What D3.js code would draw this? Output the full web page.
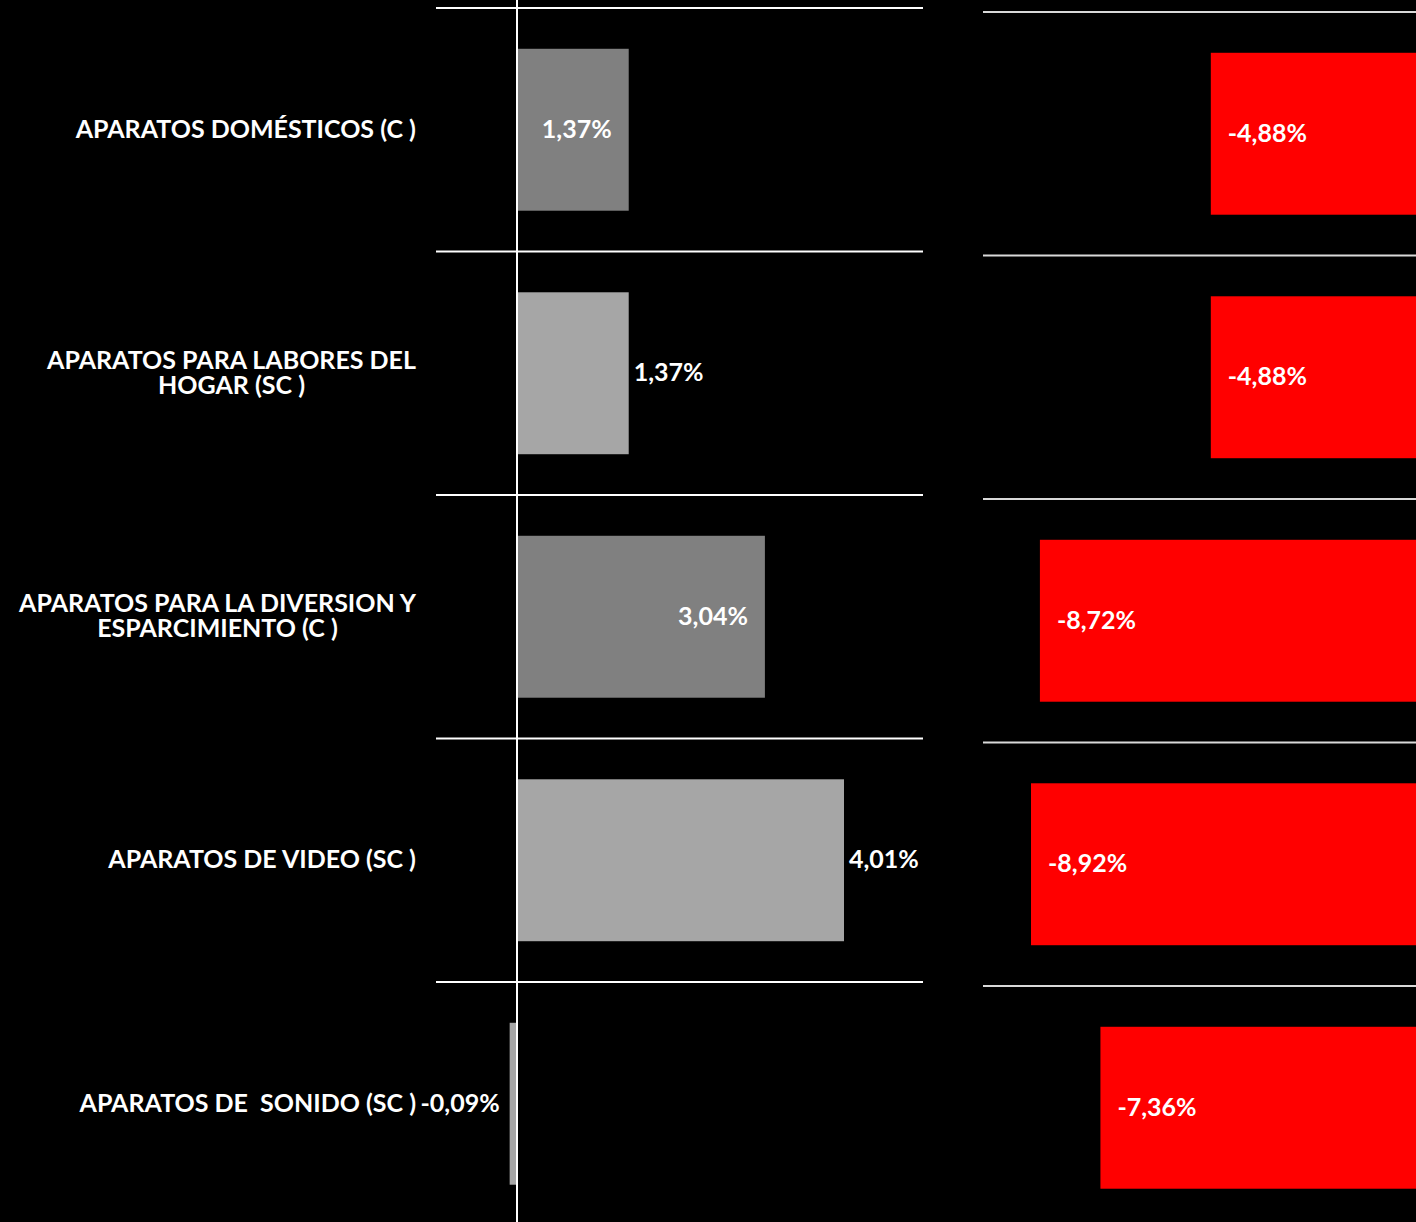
<!DOCTYPE html>
<html>
<head>
<meta charset="utf-8">
<script src="https://cdn.jsdelivr.net/npm/d3@7"></script>
<style>
  html, body { margin: 0; padding: 0; background: #000; }
  svg { display: block; }
  text { font-family: "Lato", "Open Sans", sans-serif; font-weight: 700; fill: #fff; }
</style>
</head>
<body>
<svg id="chart" width="1416" height="1222"></svg>
<script>
const categories = [
  "APARATOS DOMÉSTICOS (C )",
  "APARATOS PARA LABORES DEL HOGAR (SC )",
  "APARATOS PARA LA DIVERSION Y ESPARCIMIENTO (C )",
  "APARATOS DE VIDEO (SC )",
  "APARATOS DE  SONIDO (SC )"
];
const categoryLines = [
  ["APARATOS DOMÉSTICOS (C )"],
  ["APARATOS PARA LABORES DEL", "HOGAR (SC )"],
  ["APARATOS PARA LA DIVERSION Y", "ESPARCIMIENTO (C )"],
  ["APARATOS DE VIDEO (SC )"],
  ["APARATOS DE\u00A0\u00A0SONIDO (SC )"]
];
const seriesLeft = [1.37, 1.37, 3.04, 4.01, -0.09];
const seriesRight = [-4.88, -4.88, -8.72, -8.92, -7.36];
const leftColors = ["#808080", "#a6a6a6", "#808080", "#a6a6a6", "#a6a6a6"];
const rightColor = "#ff0000";

const locale = d3.formatLocale({ decimal: ",", thousands: ".", grouping: [3], currency: ["", ""], minus: "-" });
const fmt = v => locale.format(".2f")(v) + "%";

const svg = d3.select("#chart");
const W = 1416, H = 1222;
const FS = 25;

// ---------- Left panel ----------
const yL = d3.scaleBand().domain(categories).range([8, 1225.5])
  .paddingInner(0.335).paddingOuter(0.1675);
const xL = d3.scaleLinear().domain([0, 4.01]).range([517, 844]);
const stepL = yL.step();
const offL = stepL * yL.paddingOuter();

const gL = svg.append("g");
gL.selectAll("line.grid").data(categories).join("line")
  .attr("x1", 436).attr("x2", 923)
  .attr("y1", d => yL(d) - offL)
  .attr("y2", d => yL(d) - offL)
  .attr("stroke", "#ffffff").attr("stroke-width", 2);

gL.selectAll("rect").data(seriesLeft).join("rect")
  .attr("x", d => xL(Math.min(0, d)))
  .attr("width", d => Math.abs(xL(d) - xL(0)))
  .attr("y", (d, i) => yL(categories[i]))
  .attr("height", yL.bandwidth())
  .attr("fill", (d, i) => leftColors[i]);

gL.append("line").attr("x1", xL(0)).attr("x2", xL(0)).attr("y1", 0).attr("y2", H)
  .attr("stroke", "#ffffff").attr("stroke-width", 2);

gL.selectAll("text.val").data(seriesLeft).join("text")
  .attr("class", "val")
  .attr("font-size", FS)
  .attr("dominant-baseline", "central")
  .attr("y", (d, i) => yL(categories[i]) + yL.bandwidth() / 2 - 2)
  .attr("x", (d, i) => {
    if (d < 0) return xL(d) - 10;
    if (leftColors[i] === "#808080") return xL(d) - 17;
    return xL(d) + 5;
  })
  .attr("text-anchor", (d, i) => (d < 0 || leftColors[i] === "#808080") ? "end" : "start")
  .text(d => fmt(d));

categoryLines.forEach((lines, i) => {
  const cy = yL(categories[i]) + yL.bandwidth() / 2;
  const lh = 25;
  const multi = lines.length > 1;
  const t = gL.append("text").attr("class", "cat").attr("font-size", FS)
    .attr("text-anchor", multi ? "middle" : "end")
    .attr("dominant-baseline", "central");
  lines.forEach((ln, j) => {
    t.append("tspan")
      .attr("x", multi ? 0 : 416)
      .attr("y", cy - 2 + (j - (lines.length - 1) / 2) * lh)
      .text(ln);
  });
  if (multi) {
    const w = d3.max(t.selectAll("tspan").nodes(), n => n.getComputedTextLength());
    t.selectAll("tspan").attr("x", 416 - w / 2);
  }
});

// ---------- Right panel ----------
const yR = d3.scaleBand().domain(categories).range([12, 1229.5])
  .paddingInner(0.335).paddingOuter(0.1675);
const xR = d3.scaleLinear().domain([-8.92, 0]).range([1031, 1428]);
const offR = yR.step() * yR.paddingOuter();
const gR = svg.append("g");

gR.selectAll("line.grid").data(categories).join("line")
  .attr("x1", 983).attr("x2", W)
  .attr("y1", d => yR(d) - offR)
  .attr("y2", d => yR(d) - offR)
  .attr("stroke", "#d9d9d9").attr("stroke-width", 2);

gR.selectAll("rect").data(seriesRight).join("rect")
  .attr("x", d => xR(d))
  .attr("width", d => xR(0) - xR(d))
  .attr("y", (d, i) => yR(categories[i]))
  .attr("height", yR.bandwidth())
  .attr("fill", rightColor);

gR.selectAll("text.val").data(seriesRight).join("text")
  .attr("class", "val")
  .attr("font-size", FS)
  .attr("dominant-baseline", "central")
  .attr("x", d => xR(d) + 17)
  .attr("y", (d, i) => yR(categories[i]) + yR.bandwidth() / 2 - 2)
  .text(d => fmt(d));
</script>
</body>
</html>
